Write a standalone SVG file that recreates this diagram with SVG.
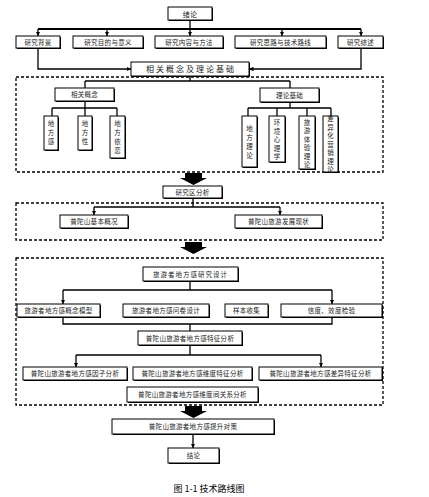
<svg xmlns="http://www.w3.org/2000/svg" width="429" height="497" viewBox="0 0 429 497">
<style>
.sh{fill:#000}
.bx{fill:#fff;stroke:#000;stroke-width:1}
.t{font-family:"Noto Sans CJK SC","Noto Sans",sans-serif;font-size:6.5px;fill:#222;text-anchor:middle;letter-spacing:0.3px}
.tv{font-family:"Noto Sans CJK SC","Noto Sans",sans-serif;font-size:6.5px;fill:#222;text-anchor:middle}
.c{fill:none;stroke:#000;stroke-width:1.3}
.ca{fill:none;stroke:#000;stroke-width:1.3;marker-end:url(#ah)}
.dash{fill:none;stroke:#000;stroke-width:1.3;stroke-dasharray:3 2}
.ba{fill:#000}
</style>
<defs>
<marker id="ah" viewBox="0 0 6 6" refX="6" refY="3" markerWidth="4.5" markerHeight="4.5" orient="auto" markerUnits="userSpaceOnUse">
<path d="M0,0 L6,3 L0,6 Z" fill="#000"/>
</marker>
</defs>
<rect width="429" height="497" fill="#fff"/>

<!-- dashed regions -->
<rect class="dash" x="16" y="77" width="367" height="95"/>
<rect class="dash" x="16" y="203" width="367" height="37"/>
<rect class="dash" x="16" y="258" width="367" height="147"/>

<!-- block arrows -->
<path class="ba" d="M185,173 H202 V178 H207 L193.5,185 L180,178 H185 Z"/>
<path class="ba" d="M185,242 H202 V247 H207 L193.5,254 L180,247 H185 Z"/>
<path class="ba" d="M185,406 H202 V411 H207 L193.5,418 L180,411 H185 Z"/>

<g id="connectors">
<path class="c" d="M190,20 V29" />
<path class="c" style="stroke-width:2" d="M38,29 H361"/>
<path class="ca" d="M38,29 V36"/>
<path class="ca" d="M107,29 V36"/>
<path class="ca" d="M190,29 V36"/>
<path class="ca" d="M282,29 V36"/>
<path class="ca" d="M361,29 V36"/>
<path class="ca" d="M38,48 V69 H131"/>
<path class="ca" d="M361,48 V69 H249"/>
<path class="c" d="M190,76 V81 M85,81 H290 M85,81 V88 M290,81 V88"/>
<path class="c" d="M85,101 V108 M52,108 H117 M52,108 V116 M85,108 V116 M117,108 V116"/>
<path class="c" d="M290,102 V108 M248,108 H331 M248,108 V116 M277,108 V116 M307,108 V116 M331,108 V116"/>
<path class="c" d="M193,198 V207 M94,207 H280"/>
<path class="ca" d="M94,207 V215"/>
<path class="ca" d="M280,207 V215"/>
<path class="c" d="M190,281 V290 M63,290 H332"/>
<path class="ca" d="M63,290 V304"/>
<path class="ca" d="M332,290 V304"/>
<path class="c" d="M63,317 V324 H332 V317 M190,324 V331"/>
<path class="c" d="M190,345 V355 M76,355 H321"/>
<path class="ca" d="M76,355 V367"/>
<path class="ca" d="M321,355 V367"/>
<path class="ca" d="M193,434 V448"/>
</g>

<g id="n-xulun"><rect class="sh" x="169" y="8" width="44" height="13"/><rect class="bx" x="168" y="7" width="44" height="13"/><text class="t" x="190" y="16.5" style="font-size:7px">绪论</text></g>

<g id="n-bg"><rect class="sh" x="17" y="37" width="44" height="12"/><rect class="bx" x="16" y="36" width="44" height="12"/><text class="t" x="38" y="44.5">研究背景</text></g>
<g id="n-mudi"><rect class="sh" x="74" y="37" width="70" height="12"/><rect class="bx" x="73" y="36" width="70" height="12"/><text class="t" x="108" y="44.5">研究目的与意义</text></g>
<g id="n-neirong"><rect class="sh" x="156" y="37" width="68" height="12"/><rect class="bx" x="155" y="36" width="68" height="12"/><text class="t" x="189" y="44.5">研究内容与方法</text></g>
<g id="n-silu"><rect class="sh" x="236" y="37" width="91" height="12"/><rect class="bx" x="235" y="36" width="91" height="12"/><text class="t" x="280.5" y="44.5">研究思路与技术路线</text></g>
<g id="n-zongshu"><rect class="sh" x="339" y="37" width="45" height="12"/><rect class="bx" x="338" y="36" width="45" height="12"/><text class="t" x="360.5" y="44.5">研究综述</text></g>

<g id="n-xiangguan"><rect class="sh" x="132" y="63" width="118" height="14"/><rect class="bx" x="131" y="62" width="118" height="14"/><text class="t" x="191" y="72" style="font-size:8px;letter-spacing:2px">相关概念及理论基础</text></g>

<g id="n-gainian"><rect class="sh" x="56" y="89" width="59" height="13"/><rect class="bx" x="55" y="88" width="59" height="13"/><text class="t" x="84.5" y="97">相关概念</text></g>
<g id="n-lilun"><rect class="sh" x="261" y="89" width="59" height="14"/><rect class="bx" x="260" y="88" width="59" height="14"/><text class="t" x="289.5" y="97.5">理论基础</text></g>

<g id="n-dfg"><rect class="sh" x="45" y="117" width="14" height="34"/><rect class="bx" x="44" y="116" width="14" height="34"/><text class="tv" x="51"><tspan x="51" y="126">地</tspan><tspan x="51" y="135">方</tspan><tspan x="51" y="144">感</tspan></text></g>
<g id="n-dfx"><rect class="sh" x="79" y="117" width="14" height="34"/><rect class="bx" x="78" y="116" width="14" height="34"/><text class="tv" x="85"><tspan x="85" y="126">地</tspan><tspan x="85" y="135">方</tspan><tspan x="85" y="144">性</tspan></text></g>
<g id="n-dfyl"><rect class="sh" x="111" y="117" width="15" height="42"/><rect class="bx" x="110" y="116" width="15" height="42"/><text class="tv" x="117.5"><tspan x="117.5" y="126">地</tspan><tspan x="117.5" y="135">方</tspan><tspan x="117.5" y="144">依</tspan><tspan x="117.5" y="153">恋</tspan></text></g>

<g id="n-dfll"><rect class="sh" x="243" y="117" width="15" height="51"/><rect class="bx" x="242" y="116" width="15" height="51"/><text class="tv" x="249.5"><tspan x="249.5" y="131">地</tspan><tspan x="249.5" y="140">方</tspan><tspan x="249.5" y="149">理</tspan><tspan x="249.5" y="158">论</tspan></text></g>
<g id="n-hjxl"><rect class="sh" x="270" y="117" width="16" height="46"/><rect class="bx" x="269" y="116" width="16" height="46"/><text class="tv" x="277"><tspan x="277" y="125">环</tspan><tspan x="277" y="133.5">境</tspan><tspan x="277" y="142">心</tspan><tspan x="277" y="150.5">理</tspan><tspan x="277" y="159">学</tspan></text></g>
<g id="n-lyty"><rect class="sh" x="300" y="117" width="16" height="53"/><rect class="bx" x="299" y="116" width="16" height="53"/><text class="tv" x="307"><tspan x="307" y="124.5">旅</tspan><tspan x="307" y="133">游</tspan><tspan x="307" y="141.5">体</tspan><tspan x="307" y="150">验</tspan><tspan x="307" y="158.5">理</tspan><tspan x="307" y="167">论</tspan></text></g>
<g id="n-cyh"><rect class="sh" x="324" y="117" width="15" height="56"/><rect class="bx" x="323" y="116" width="15" height="56"/><text class="tv" x="330.5"><tspan x="330.5" y="121">差</tspan><tspan x="330.5" y="129.5">异</tspan><tspan x="330.5" y="138">化</tspan><tspan x="330.5" y="146.5">营</tspan><tspan x="330.5" y="155">销</tspan><tspan x="330.5" y="163.5">理</tspan><tspan x="330.5" y="172">论</tspan></text></g>

<g id="n-yjq"><rect class="sh" x="164" y="187" width="59" height="12"/><rect class="bx" x="163" y="186" width="59" height="12"/><text class="t" x="192.5" y="194.5">研究区分析</text></g>
<g id="n-jbgk"><rect class="sh" x="61" y="216" width="68" height="13"/><rect class="bx" x="60" y="215" width="68" height="13"/><text class="t" x="94" y="224">普陀山基本概况</text></g>
<g id="n-fzxz"><rect class="sh" x="236" y="216" width="87" height="13"/><rect class="bx" x="235" y="215" width="87" height="13"/><text class="t" x="278.5" y="224">普陀山旅游发展现状</text></g>

<g id="n-sheji"><rect class="sh" x="144" y="268" width="95" height="14"/><rect class="bx" x="143" y="267" width="95" height="14"/><text class="t" x="190.5" y="276.5" style="letter-spacing:1px">旅游者地方感研究设计</text></g>
<g id="n-moxing"><rect class="sh" x="18" y="305" width="83" height="13"/><rect class="bx" x="17" y="304" width="83" height="13"/><text class="t" x="58.5" y="313">旅游者地方感概念模型</text></g>
<g id="n-wenjuan"><rect class="sh" x="124" y="305" width="86" height="13"/><rect class="bx" x="123" y="304" width="86" height="13"/><text class="t" x="166" y="313">旅游者地方感问卷设计</text></g>
<g id="n-yangben"><rect class="sh" x="226" y="305" width="43" height="13"/><rect class="bx" x="225" y="304" width="43" height="13"/><text class="t" x="246.5" y="313">样本收集</text></g>
<g id="n-xindu"><rect class="sh" x="282" y="305" width="101" height="13"/><rect class="bx" x="281" y="304" width="101" height="13"/><text class="t" x="331.5" y="313">信度、效度检验</text></g>

<g id="n-tezheng"><rect class="sh" x="139" y="332" width="104" height="14"/><rect class="bx" x="138" y="331" width="104" height="14"/><text class="t" x="190" y="340.5">普陀山旅游者地方感特征分析</text></g>
<g id="n-yinzi"><rect class="sh" x="24" y="368" width="104" height="13"/><rect class="bx" x="23" y="367" width="104" height="13"/><text class="t" x="75" y="376">普陀山旅游者地方感因子分析</text></g>
<g id="n-weidu"><rect class="sh" x="134" y="368" width="119" height="13"/><rect class="bx" x="133" y="367" width="119" height="13"/><text class="t" x="192.5" y="376">普陀山旅游者地方感维度特征分析</text></g>
<g id="n-chayi"><rect class="sh" x="260" y="368" width="123" height="13"/><rect class="bx" x="259" y="367" width="123" height="13"/><text class="t" x="320.5" y="376">普陀山旅游者地方感差异特征分析</text></g>
<g id="n-guanxi"><rect class="sh" x="128" y="388" width="131" height="15"/><rect class="bx" x="127" y="387" width="131" height="15"/><text class="t" x="192.5" y="397">普陀山旅游者地方感维度间关系分析</text></g>

<g id="n-duice"><rect class="sh" x="113" y="420" width="162" height="15"/><rect class="bx" x="112" y="419" width="162" height="15"/><text class="t" x="193" y="429">普陀山旅游者地方感提升对策</text></g>
<g id="n-jielun"><rect class="sh" x="169" y="449" width="51" height="15"/><rect class="bx" x="168" y="448" width="51" height="15"/><text class="t" x="193.5" y="458">结论</text></g>

<text x="209" y="492" style="font-family:'Noto Sans CJK SC','Noto Sans',sans-serif;font-size:9px;fill:#000;text-anchor:middle">图 1-1 技术路线图</text>
</svg>
